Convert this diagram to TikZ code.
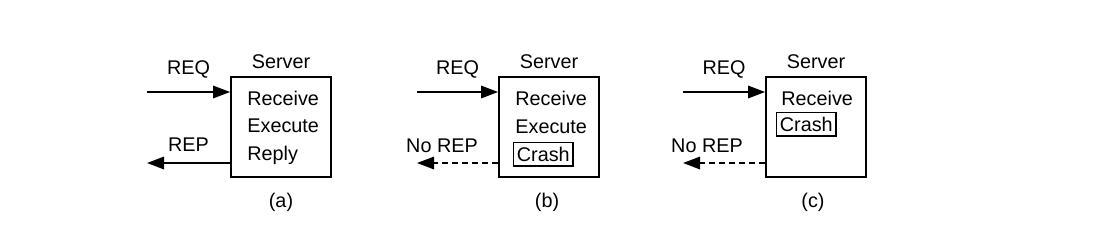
\documentclass[tikz,border=0pt]{standalone}
\usepackage{fontspec}
\setmainfont{Liberation Sans}
\usetikzlibrary{arrows.meta, positioning}

\begin{document}
\begin{tikzpicture}[
    x=0.5pt,
    y=-0.5pt,
    server/.style={rectangle, draw, line width=0.9pt, minimum width=50pt,
                   minimum height=50pt, inner sep=0pt},
    txt/.style={font=\fontsize{9.9}{11.8}\selectfont, inner sep=0pt},
    crash/.style={txt, draw, line width=0.7pt, inner xsep=1.6pt,
                  inner ysep=2.3pt, text height=7.1pt, text depth=0pt},
    msg/.style={-{Triangle[length=8.5pt, width=6.2pt]}, line width=0.9pt},
    nomsg/.style={msg, dashed, dash pattern=on 3pt off 2pt},
]
\useasboundingbox (0,0) rectangle (1114,242);

% (a) normal case
\node[server] (srva) at (281,127) {};
\node[txt, anchor=base] (nama) at ([yshift=4pt]srva.north) {Server};
\node[txt, anchor=base west] (rcva) at (247,105) {Receive};
\node[txt, anchor=base west] (exea) at (247,132) {Execute};
\node[txt, anchor=base west] (rpla) at (247,160) {Reply};
\coordinate (reqa) at (147,92);
\coordinate (repa) at (147,163);
\draw[msg] (reqa) -- node[txt, above=6.5pt] {REQ} (reqa -| srva.west);
\draw[msg] (repa -| srva.west) -- node[txt, above=5.5pt] {REP} (repa);
\node[txt, anchor=base] (capa) at (281,207) {(a)};

% (b) crash after execution
\node[server] (srvb) at (549,127) {};
\node[txt, anchor=base] (namb) at ([yshift=4pt]srvb.north) {Server};
\node[txt, anchor=base west] (rcvb) at (515,105) {Receive};
\node[txt, anchor=base west] (exeb) at (515,133) {Execute};
\node[crash, anchor=base west] (crsb) at (513,161.5) {Crash};
\coordinate (reqb) at (417,92);
\coordinate (repb) at (417,163);
\draw[msg] (reqb) -- node[txt, above=6.5pt] {REQ} (reqb -| srvb.west);
\draw[nomsg] (repb -| srvb.west) -- (repb);
\node[txt, anchor=base] (nrpb) at (442,152) {No REP};
\node[txt, anchor=base] (capb) at (547,207) {(b)};

% (c) crash before execution
\node[server] (srvc) at (816,127) {};
\node[txt, anchor=base] (namc) at ([yshift=4pt]srvc.north) {Server};
\node[txt, anchor=base west] (rcvc) at (781,105) {Receive};
\node[crash, anchor=base west] (crsc) at (776,131.5) {Crash};
\coordinate (reqc) at (683,92);
\coordinate (repc) at (683,163);
\draw[msg] (reqc) -- node[txt, above=6.5pt] {REQ} (reqc -| srvc.west);
\draw[nomsg] (repc -| srvc.west) -- (repc);
\node[txt, anchor=base] (nrpc) at (707,152) {No REP};
\node[txt, anchor=base] (capc) at (813,207) {(c)};
\end{tikzpicture}
\end{document}
